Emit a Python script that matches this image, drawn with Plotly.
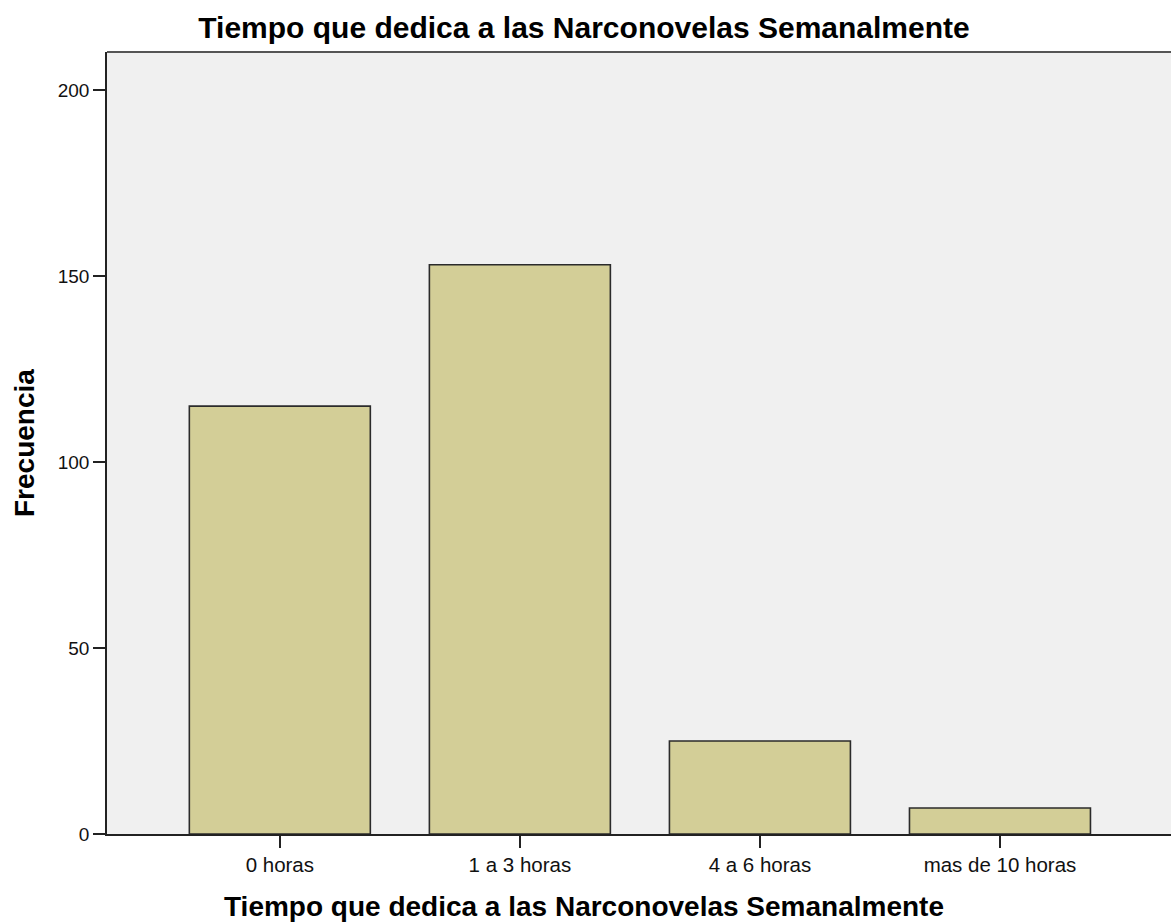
import plotly.graph_objects as go

# Frequency table: weekly time spent watching narconovelas
categorias = ["0 horas", "1 a 3 horas", "4 a 6 horas", "mas de 10 horas"]
frecuencias = [115, 153, 25, 7]
y_ticks = [0, 50, 100, 150, 200]

titulo = "Tiempo que dedica a las Narconovelas Semanalmente"
font_fam = "Liberation Sans, Arial, sans-serif"

W, H = 1171, 924
M_L, M_R, M_T, M_B = 107, 0, 52, 90
plot_w = W - M_L - M_R
plot_h = H - M_T - M_B


def px_x(x):
    return (x - M_L) / plot_w


def px_y(y):
    return (H - M_B - y) / plot_h


fig = go.Figure(
    go.Bar(
        x=list(range(len(categorias))),
        y=frecuencias,
        width=0.754,
        marker=dict(color="#D3CE97", line=dict(color="#2b2b2b", width=1.6)),
        hoverinfo="skip",
    )
)

fig.update_layout(
    width=W,
    height=H,
    margin=dict(l=M_L, r=M_R, t=M_T, b=M_B),
    paper_bgcolor="white",
    plot_bgcolor="#F0F0F0",
    showlegend=False,
    font=dict(family=font_fam, color="black"),
    title=dict(
        text="<b>" + titulo + "</b>",
        x=584 / W,
        xanchor="center",
        xref="container",
        y=1 - 27 / H,
        yanchor="middle",
        yref="container",
        font=dict(size=30, family=font_fam, color="black"),
    ),
)

fig.update_xaxes(
    range=[-0.72, 3.7125],
    tickmode="array",
    tickvals=list(range(len(categorias))),
    ticktext=categorias,
    ticks="outside",
    ticklen=12,
    tickwidth=1.5,
    tickcolor="#222",
    showline=True,
    linecolor="#222",
    linewidth=1.5,
    showgrid=False,
    zeroline=False,
    tickfont=dict(size=20.5, family=font_fam, color="#111"),
)

fig.update_yaxes(
    range=[0, 210.2],
    tickmode="array",
    tickvals=y_ticks,
    ticks="outside",
    ticklen=12,
    tickwidth=1.5,
    tickcolor="#222",
    showline=True,
    linecolor="#222",
    linewidth=1.5,
    showgrid=False,
    zeroline=False,
    tickfont=dict(size=19, family=font_fam, color="#111"),
)

# Axis titles
fig.add_annotation(
    text="<b>" + titulo + "</b>",
    xref="paper", yref="paper",
    x=px_x(584), y=px_y(906),
    xanchor="center", yanchor="middle",
    showarrow=False,
    font=dict(size=28, family=font_fam, color="black"),
)
fig.add_annotation(
    text="<b>Frecuencia</b>",
    xref="paper", yref="paper",
    x=px_x(24), y=px_y(443),
    xanchor="center", yanchor="middle",
    textangle=-90,
    showarrow=False,
    font=dict(size=28, family=font_fam, color="black"),
)

# Top frame border of the plot area
fig.add_shape(
    type="line", xref="paper", yref="paper",
    x0=0, x1=1, y0=1, y1=1,
    line=dict(color="#555", width=2),
)

fig.write_html("out.html")
